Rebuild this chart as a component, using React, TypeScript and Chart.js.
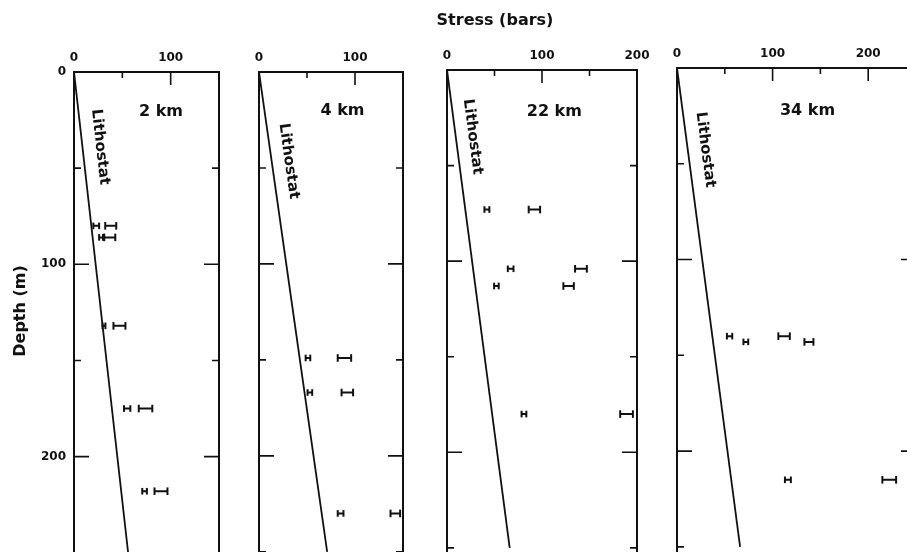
import React, { useEffect, useRef } from 'react';
import { Chart, registerables } from 'chart.js';

Chart.register(...registerables);

// ---------------- data ----------------
const panelLabels = ['2 km', '4 km', '22 km', '34 km'];
const stressAxisMax = [150, 150, 200, 250];
const depthAxisMax = 260;
const stressTickStep = 50;
const depthTickStep = 50;
const lithostatDepth = 250;
const lithostatStress = [56, 71, 66, 66];

// 2 km
const depth2km = [80, 86, 132, 175, 218];
const minStress2km = [23, 28, 31, 55, 73];
const minErr2km = [3, 2, 1.5, 3.3, 2.4];
const maxStress2km = [38, 37, 47, 74, 90];
const maxErr2km = [5.7, 5.7, 6.2, 7, 6.7];

// 4 km
const depth4km = [149, 167, 230];
const minStress4km = [51, 53, 85];
const minErr4km = [2.4, 2.4, 3];
const maxStress4km = [89, 92, 142];
const maxErr4km = [7, 6, 5];

// 22 km
const depth22km = [73, 104, 113, 180];
const minStress22km = [42, 67, 52, 81];
const minErr22km = [2.6, 3, 2.4, 2.5];
const maxStress22km = [92, 141, 128, 189];
const maxErr22km = [6, 6.2, 5.5, 6.7];

// 34 km
const depth34km = [140, 143, 215];
const minStress34km = [55, 72, 116];
const minErr34km = [2.8, 2.5, 3.1];
const maxStress34km = [112, 138, 222];
const maxErr34km = [6, 4.7, 7.2];

const panelDepths = [depth2km, depth4km, depth22km, depth34km];
const panelMinStress = [minStress2km, minStress4km, minStress22km, minStress34km];
const panelMinErr = [minErr2km, minErr4km, minErr22km, minErr34km];
const panelMaxStress = [maxStress2km, maxStress4km, maxStress22km, maxStress34km];
const panelMaxErr = [maxErr2km, maxErr4km, maxErr22km, maxErr34km];

// ---------------- layout / style ----------------
const CANVAS_W = 940;
const CANVAS_H = 600;
const AXIS_BOX = 40;
const INK = '#111';
const FONT = '"DejaVu Sans", "Liberation Sans", sans-serif';

const panelBoxes = [
  { left: 74, right: 219, top: 72, bottom: 572 },
  { left: 259, right: 403, top: 72, bottom: 571 },
  { left: 447, right: 637, top: 70, bottom: 567 },
  { left: 677, right: 916, top: 68, bottom: 566 },
];
// label anchors in data units (stress, depth)
const nameAnchors = [
  { x: 90, y: 22.9 },
  { x: 87, y: 22.4 },
  { x: 113, y: 24 },
  { x: 136.5, y: 24.5 },
];
const lithoAnchors = [
  { x: 27, y: 39 },
  { x: 31, y: 46.5 },
  { x: 27, y: 35 },
  { x: 29.6, y: 42.7 },
];

function barData(depths: number[], centers: number[], errs: number[]) {
  const out: any[] = [];
  depths.forEach((d, i) => {
    out.push({ x: centers[i] - errs[i], y: d });
    out.push({ x: centers[i] + errs[i], y: d });
    out.push({ x: null, y: null });
  });
  return out;
}

function makePlugin(i: number) {
  return {
    id: 'frame' + i,
    afterDraw(chart: any) {
      const ctx = chart.ctx as CanvasRenderingContext2D;
      const a = chart.chartArea;
      const xs = chart.scales.x;
      const ys = chart.scales.y;
      ctx.save();
      ctx.strokeStyle = INK;
      ctx.lineWidth = 2;
      ctx.beginPath();
      ctx.rect(a.left, a.top, a.right - a.left, a.bottom - a.top);
      ctx.stroke();

      ctx.lineWidth = 1.6;
      ctx.beginPath();
      xs.ticks.forEach((t: any) => {
        if (t.value <= xs.min || t.value >= xs.max) return;
        const px = xs.getPixelForValue(t.value);
        const len = t.value % 100 === 0 ? 13 : 6;
        ctx.moveTo(px, a.top);
        ctx.lineTo(px, a.top + len);
      });
      ys.ticks.forEach((t: any) => {
        if (t.value <= ys.min || t.value % depthTickStep !== 0) return;
        const py = ys.getPixelForValue(t.value);
        const len = t.value % 100 === 0 ? 15 : 7;
        ctx.moveTo(a.left, py);
        ctx.lineTo(a.left + len, py);
        ctx.moveTo(a.right, py);
        ctx.lineTo(a.right - len, py);
      });
      ctx.stroke();

      ctx.fillStyle = INK;
      // panel name
      ctx.font = `bold 16px ${FONT}`;
      ctx.textAlign = 'center';
      ctx.textBaseline = 'alphabetic';
      ctx.fillText(
        panelLabels[i],
        xs.getPixelForValue(nameAnchors[i].x),
        ys.getPixelForValue(nameAnchors[i].y)
      );

      // Lithostat label along the line
      const x0 = xs.getPixelForValue(0);
      const y0 = ys.getPixelForValue(0);
      const x1 = xs.getPixelForValue(lithostatStress[i]);
      const y1 = ys.getPixelForValue(lithostatDepth);
      const ang = Math.atan2(y1 - y0, x1 - x0);
      ctx.save();
      ctx.font = `bold 15px ${FONT}`;
      ctx.textBaseline = 'middle';
      ctx.translate(xs.getPixelForValue(lithoAnchors[i].x), ys.getPixelForValue(lithoAnchors[i].y));
      ctx.rotate(ang);
      ctx.fillText('Lithostat', 0, 0);
      ctx.restore();

      if (i === 0) {
        ctx.font = `bold 16px ${FONT}`;
        ctx.textAlign = 'center';
        ctx.textBaseline = 'alphabetic';
        ctx.fillText('Stress (bars)', 495, 25);
        ctx.save();
        ctx.translate(24.5, 311);
        ctx.rotate(-Math.PI / 2);
        ctx.fillText('Depth (m)', 0, 0);
        ctx.restore();
      }
      ctx.restore();
    },
  };
}

function makeConfig(i: number): any {
  const box = panelBoxes[i];
  const barCommon = {
    showLine: true,
    spanGaps: false,
    borderColor: INK,
    borderWidth: 2,
    pointStyle: 'line',
    pointRotation: 90,
    pointBorderWidth: 2,
    pointBorderColor: INK,
    pointBackgroundColor: INK,
    pointHoverRadius: 0,
  };
  return {
    type: 'scatter',
    data: {
      datasets: [
        {
          label: 'Lithostat',
          data: [
            { x: 0, y: 0 },
            { x: lithostatStress[i], y: lithostatDepth },
          ],
          showLine: true,
          borderColor: INK,
          borderWidth: 1.8,
          pointRadius: 0,
        },
        {
          label: 'min',
          data: barData(panelDepths[i], panelMinStress[i], panelMinErr[i]),
          ...barCommon,
          pointRadius: 3.3,
        },
        {
          label: 'max',
          data: barData(panelDepths[i], panelMaxStress[i], panelMaxErr[i]),
          ...barCommon,
          pointRadius: 3.8,
        },
      ],
    },
    options: {
      responsive: false,
      animation: false,
      devicePixelRatio: 1,
      events: [],
      layout: {
        padding: {
          left: box.left - AXIS_BOX,
          right: CANVAS_W - box.right,
          top: box.top - AXIS_BOX,
          bottom: CANVAS_H - box.bottom,
        },
      },
      plugins: { legend: { display: false }, tooltip: { enabled: false } },
      scales: {
        x: {
          type: 'linear',
          position: 'top',
          min: 0,
          max: stressAxisMax[i],
          grid: { display: false, drawTicks: false },
          border: { display: false },
          ticks: {
            stepSize: stressTickStep,
            autoSkip: false,
            maxRotation: 0,
            padding: 7,
            color: INK,
            font: { family: FONT, weight: 'bold', size: 12 },
            callback: (v: any) => (Number(v) % 100 === 0 ? String(v) : ''),
          },
          afterFit: (s: any) => {
            s.height = AXIS_BOX;
          },
        },
        y: {
          type: 'linear',
          position: 'left',
          reverse: true,
          min: 0,
          max: depthAxisMax,
          grid: { display: false, drawTicks: false },
          border: { display: false },
          ticks: {
            display: i === 0,
            stepSize: depthTickStep,
            autoSkip: false,
            padding: 8,
            color: INK,
            font: { family: FONT, weight: 'bold', size: 12 },
            callback: (v: any) => (Number(v) % 100 === 0 ? String(v) : ''),
          },
          afterFit: (s: any) => {
            s.width = AXIS_BOX;
          },
        },
      },
    },
    plugins: [makePlugin(i)],
  };
}

export default function App() {
  const refs = [
    useRef<HTMLCanvasElement>(null),
    useRef<HTMLCanvasElement>(null),
    useRef<HTMLCanvasElement>(null),
    useRef<HTMLCanvasElement>(null),
  ];
  useEffect(() => {
    const charts = refs.map((r, i) => new Chart(r.current as HTMLCanvasElement, makeConfig(i)));
    return () => charts.forEach((c) => c.destroy());
  }, []);
  return (
    <div
      style={{
        position: 'fixed',
        left: 0,
        top: 0,
        width: 907,
        height: 552,
        overflow: 'hidden',
        background: '#fff',
      }}
    >
      {refs.map((r, i) => (
        <canvas
          key={i}
          ref={r}
          width={CANVAS_W}
          height={CANVAS_H}
          style={{ position: 'absolute', left: 0, top: 0, width: CANVAS_W, height: CANVAS_H }}
        />
      ))}
    </div>
  );
}
